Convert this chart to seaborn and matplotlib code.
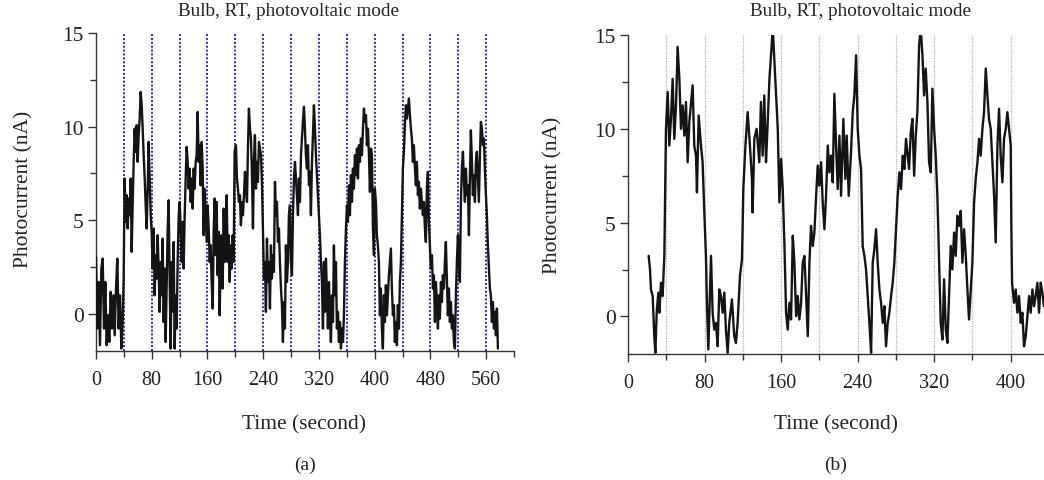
import matplotlib
matplotlib.use("Agg")
import matplotlib.pyplot as plt
import seaborn as sns
import pandas as pd
from matplotlib.ticker import MultipleLocator

# ---------------- data: panel (a) ----------------
time_a = [0.0, 1.9, 3.8, 5.7, 7.7, 9.6, 11.5, 13.4, 15.3, 17.2, 19.1, 21.1, 23.0, 24.9, 26.8, 28.7,
          30.6, 32.5, 34.4, 36.4, 38.3, 39.7,
          41.1, 42.6, 44.0, 45.5, 46.9, 48.3, 49.8, 51.2, 52.6, 54.1, 55.5, 56.9, 58.4, 59.8, 61.2, 62.7,
          64.1, 65.6, 67.0, 68.4, 69.9, 71.3, 72.7, 74.2, 75.6, 77.0, 78.5, 79.9, 81.3, 82.8, 84.2, 85.6,
          87.1, 88.5, 90.0, 91.4, 92.8, 94.3, 95.7, 97.1, 98.6, 100.0, 101.4, 102.9, 104.3, 105.7, 107.2,
          108.6, 110.0, 111.5, 112.9, 114.4, 115.8, 117.2, 118.7, 120.1,
          121.5, 123.0, 124.4, 125.8, 127.3, 128.7, 130.1, 131.6, 133.0, 134.4, 135.9, 137.3, 138.8, 140.2,
          141.6, 143.1, 144.5, 145.9, 147.4, 148.8, 150.2, 151.7, 153.1, 154.5, 156.0, 157.4, 158.9, 160.3,
          161.7, 163.2, 164.6, 166.0, 167.5, 168.9, 170.3, 171.8, 173.2, 174.6, 176.1, 177.5, 178.9, 180.4,
          181.8, 183.3, 184.7, 186.1, 187.6, 189.0, 190.4, 191.9, 193.3, 194.7, 196.2, 197.6, 199.0,
          200.9, 202.3, 203.7, 205.2, 206.6, 208.0, 209.5, 210.9, 212.4, 213.8, 215.2, 216.7, 218.1, 219.5,
          221.0, 222.4, 223.8, 225.3, 226.7, 228.1, 229.6, 231.0, 232.4, 233.9, 235.3, 236.8, 238.2, 239.6,
          241.1, 242.5, 243.9, 245.4, 246.8, 248.2, 249.7, 251.1, 252.5, 254.0, 255.4, 256.9, 258.3, 259.7,
          261.2, 262.6, 264.0, 265.5, 266.9, 268.3, 269.8, 271.2, 272.6, 274.1, 275.5, 276.9, 278.4, 279.8,
          281.3, 282.7, 284.1, 285.6, 287.0, 288.4, 289.9, 291.3, 292.7, 294.2, 295.6, 297.0, 298.5, 299.9,
          301.3, 302.8, 304.2, 305.7, 307.1, 308.5, 310.0, 311.4, 312.8, 314.3, 315.7, 317.1, 318.6, 320.0,
          321.4, 322.9, 324.3, 325.8, 327.2, 328.6, 330.1, 331.5, 332.9, 334.4, 335.8, 337.2, 338.7, 340.1,
          341.5, 343.0, 344.4, 345.8, 347.3, 348.7, 350.2, 351.6, 353.0, 354.5, 355.9, 357.3, 358.8, 360.2,
          361.6, 363.1, 364.5, 365.9, 367.4, 368.8, 370.2, 371.7, 373.1, 374.6, 376.0, 377.4, 378.9, 380.3,
          381.7, 383.2, 384.6, 386.0, 387.5, 388.9, 390.3, 391.8, 393.2, 394.7, 396.1, 397.5, 399.0,
          400.3, 401.8, 403.2, 404.6, 406.1, 407.5, 408.9, 410.4, 411.8, 413.3, 414.7, 416.1, 417.6, 419.0,
          420.4, 421.9, 423.3, 424.7, 426.2, 427.6, 429.0, 430.5, 431.9, 433.3, 434.8, 436.2, 437.7, 439.1,
          440.5, 442.0, 443.4, 444.8, 446.3, 447.7, 449.1, 450.6, 452.0, 453.4, 454.9, 456.3, 457.8, 459.2,
          460.6, 462.1, 463.5, 464.9, 466.4, 467.8, 469.2, 470.7, 472.1, 473.5, 475.0, 476.4, 477.8, 479.3,
          480.7, 482.2, 483.6, 485.0, 486.5, 487.9, 489.3, 490.8, 492.2, 493.6, 495.1, 496.5, 497.9, 499.4,
          500.8, 502.2, 503.7, 505.1, 506.6, 508.0, 509.4, 510.9, 512.3, 513.7, 515.2, 516.6, 518.0, 519.5,
          520.9, 522.3, 523.8, 525.2, 526.7, 528.1, 529.5, 531.0, 532.4, 533.8, 535.3, 536.7, 538.1, 539.6,
          541.0, 542.4, 543.9, 545.3, 546.7, 548.2, 549.6, 551.1, 552.5, 553.9, 555.4, 556.8, 558.2, 559.7,
          561.1, 562.5, 564.0, 565.4, 566.8, 568.3, 569.7, 571.2, 572.6, 574.0, 575.5, 576.9]
current_a = [3.03, -0.80, 1.69, -1.69, 2.41, 2.94, -0.80, 1.69, -1.69, -0.09, -1.52, 1.16, -0.80, 0.98, -1.16, 1.34,
             2.94, -0.80, 0.98, -1.87, -0.45, 1.87,
             7.22, 4.90, 6.33, 4.55, 6.15, 5.26, 7.22, 3.30, 5.79, 8.11, 9.89, 8.65, 10.07, 8.11, 9.54, 10.43,
             11.85, 11.14, 9.89, 8.47, 7.22, 5.79, 4.55, 6.68, 9.18, 7.22, 5.26, 4.37, 2.41, 4.55, 0.98, 3.12,
             1.87, 4.19, 2.23, 0.09, 2.76, 0.98, 4.01, -0.45, 2.41, -1.52, 1.34, 4.55, 6.06, 1.87, -1.87,
             2.76, 0.09, 3.83, -1.87, 0.98, -0.80, 2.76, 5.26, 5.97,
             4.55, 2.76, 4.90, 2.41, 5.26, 7.22, 8.91, 8.11, 6.68, 7.75, 5.97, 7.22, 5.61, 7.75,
             6.68, 8.11, 8.47, 10.78, 8.11, 9.00, 6.86, 9.18, 7.75, 4.19, 6.68, 5.26, 3.83, 5.79,
             4.55, 2.76, 3.65, 1.69, 0.27, 4.37, 6.15, 3.12, 5.97, 2.05, 4.37, -0.09, 2.76, 4.19,
             1.34, 5.61, 2.76, 3.65, 6.33, 2.76, 4.19, 1.69, 3.65, 2.41, 4.19, 2.76, 8.65,
             9.00, 7.22, 6.68, 5.97, 6.33, 4.72, 5.97, 5.26, 6.33, 7.58, 6.86, 5.97, 8.82, 10.96,
             9.89, 9.36, 7.58, 4.55, 8.11, 9.54, 6.68, 8.11, 7.04, 9.18, 8.82, 8.47, 7.04, 4.55,
             1.87, 2.76, 0.09, 4.01, 1.69, 2.76, 0.27, 3.65, 1.87, 3.12, 2.23, 7.04, 5.26, 5.97,
             3.83, 4.55, 2.76, 1.34, 0.45, -1.52, 0.62, -0.80, 3.65, 1.69, 2.76, 5.26, 5.79, 2.76,
             2.05, 5.26, 7.22, 8.11, 7.22, 6.33, 5.26, 7.22, 5.97, 8.47, 9.36, 10.25, 11.05, 9.89,
             8.47, 7.75, 9.00, 6.86, 7.58, 5.26, 8.11, 9.54, 11.14, 9.89, 8.47, 7.40, 6.33, 5.26,
             4.19, 2.76, 1.69, -0.80, 2.76, 0.09, 2.94, 0.98, -0.80, 1.69, -0.09, -1.52, 0.98, -0.45,
             3.65, 0.98, 2.76, -0.80, 0.09, -1.52, -0.45, -1.87, -0.80, -1.52, -0.09, 2.76, 4.55, 5.79,
             4.90, 6.86, 5.26, 7.40, 5.97, 7.75, 6.68, 8.47, 7.40, 8.82, 7.22, 9.00, 8.11, 9.36,
             8.47, 9.89, 10.96, 10.25, 10.61, 9.00, 9.89, 8.47, 6.51, 8.82, 8.47, 4.55, 3.12,
             6.68, 5.97, 4.19, 3.65, 2.76, -0.09, 1.34, -0.80, -1.87, 0.98, -0.45, 1.52, -0.09, 0.98,
             2.05, 2.76, 3.48, 1.34, -0.09, 0.45, -1.52, -0.45, -1.69, 0.45, -0.80, 1.69, 2.76, 5.26,
             7.75, 8.65, 10.07, 11.14, 10.43, 10.96, 11.50, 10.61, 9.89, 9.36, 8.11, 9.00, 7.75, 6.86,
             8.11, 6.33, 7.04, 5.61, 6.68, 5.97, 5.26, 5.97, 4.55, 3.83, 6.68, 7.58, 4.90, 3.65,
             2.41, 3.12, 1.34, 2.05, -0.45, 1.69, 0.62, -0.80, 0.98, -0.27, 1.69, 0.62, 2.05, 1.34,
             2.76, 3.83, 1.69, -0.09, 1.34, -0.45, 0.62, -0.80, -0.09, -1.52, -1.87, 0.98, 2.76, 4.19,
             2.76, 1.69, 5.97, 7.75, 8.65, 7.22, 5.97, 7.75, 6.33, 6.86, 4.19, 7.22, 9.80, 8.11,
             6.33, 7.40, 5.97, 8.11, 8.65, 7.22, 5.97, 8.47, 10.25, 9.89, 9.00, 9.36, 7.75, 6.33,
             5.26, 3.65, 2.41, 1.34, 0.98, -0.45, 0.62, -0.80, 0.09, -1.16, 0.27, -1.87]

# ---------------- data: panel (b) ----------------
time_b = [21.6, 23.0, 24.0, 25.8, 27.5, 28.6, 30.0, 31.7, 32.8, 34.5, 36.2, 38.0, 39.7, 41.5, 43.2, 44.9,
          46.7, 48.4, 50.2, 51.9, 53.7, 55.4, 57.1, 58.9, 60.6, 62.4, 64.1, 67.6, 69.3, 71.1, 72.1, 73.9,
          76.3, 78.0, 79.8, 81.5, 82.6, 84.0, 86.8, 88.5, 90.2, 92.0, 93.7, 95.5, 97.2, 99.0, 100.7, 102.4,
          104.2, 105.9, 108.7, 111.1, 112.9, 114.6, 117.1, 119.2, 120.6, 122.6, 125.1, 127.5, 129.6, 130.3,
          132.1, 134.5, 137.3, 139.0, 140.8, 142.5, 144.3,
          145.4, 147.9, 151.4, 153.1, 154.9, 156.6, 158.3, 160.1, 161.8, 163.6, 165.3, 167.0, 168.8, 170.5,
          172.3, 174.0, 175.8, 177.5, 179.2, 181.0, 182.7, 184.5, 186.2, 188.0, 189.7, 191.4, 193.2, 194.9,
          196.7, 198.4, 200.1, 201.9, 203.6, 205.4, 207.1, 208.9, 210.6, 212.3, 214.1, 215.8, 217.6, 219.3,
          221.1, 222.8, 225.2, 227.3, 228.7, 230.8, 233.2, 235.0, 236.7, 238.5, 240.2, 242.0, 243.7, 245.4,
          247.2, 248.9, 250.7, 252.4, 254.2, 255.9, 257.6, 259.4, 261.1, 262.9, 264.6, 266.4, 268.1, 269.8,
          271.6, 273.3, 275.1, 276.8, 278.5, 280.3, 282.0, 283.8, 285.5, 287.3, 289.0, 290.7,
          293.9, 295.7, 297.4, 299.2, 300.9, 302.6, 304.4, 306.1, 307.9, 309.6, 311.3, 313.1, 314.8, 316.6,
          318.3, 320.1, 321.8, 323.5, 325.3, 327.0, 328.8, 330.5, 332.3, 334.0, 335.7, 337.5, 339.2, 341.0,
          342.7, 344.4, 346.2, 347.9, 349.7, 351.4, 353.2, 354.9, 356.6, 358.4, 360.1, 361.9, 363.6, 365.4,
          367.1, 368.8, 370.6, 372.3, 374.1, 375.8, 377.5, 379.3, 381.0, 382.8, 384.5, 386.3, 388.0, 389.7,
          391.5, 393.2, 395.0, 396.7, 398.5, 400.2, 400.9, 401.6, 403.7, 405.4, 407.2, 408.9, 410.7, 412.4,
          414.1, 415.9, 417.6, 419.4, 421.1, 422.9, 424.6, 426.3, 428.1, 429.8, 431.6, 433.3, 435.0]
current_b = [3.23, 2.51, 1.44, 1.09, -1.05, -1.94, 0.20, 1.27, 0.20, 1.80, 1.09, 3.23, 10.00, 11.96, 9.11, 10.53,
             12.67, 9.47, 11.25, 14.37, 12.67, 10.00, 11.25, 9.64, 11.43, 8.22, 10.36, 12.32, 9.11, 8.57, 6.61, 10.71,
             9.11, 8.22, 5.54, 3.23, 0.55, -1.76, 3.23, 0.20, -0.70, -0.34, -1.59, 1.44, 1.09, 0.20, 1.27, -0.70,
             -1.94, -0.34, 0.91, -1.05, -1.41, -0.34, 2.16, 3.05, 6.79, 8.93, 10.89, 9.11, 7.33, 5.54,
             9.47, 10.00, 8.22, 11.43, 8.57, 11.78, 8.22,
             9.47, 12.67, 15.35, 13.57, 11.78, 10.00, 6.08, 8.40, 6.79, 3.76, 0.20, -0.70, 0.73, -0.16,
             4.30, 2.87, 0.02, 1.09, -0.16, 0.73, 2.87, 3.23, 1.09, -1.05, 2.87, 4.83, 3.76, 4.47,
             6.43, 8.04, 6.97, 8.22, 6.08, 4.65, 6.43, 9.11, 7.68, 8.57, 7.15, 11.87, 9.11, 6.79,
             9.64, 6.43, 10.53, 7.33, 9.64, 6.43, 8.75, 10.89, 11.78, 13.92, 10.00, 8.57, 7.86, 3.76,
             3.23, 2.51, 1.09, -0.34, -1.94, 2.87, 3.58, 4.65, 2.87, 1.44, 0.73, -0.34, 0.55, -1.59,
             -0.34, 0.20, 1.09, 1.80, 2.87, 4.65, 6.43, 7.68, 6.79, 8.57, 7.86, 9.47,
             7.86, 9.82, 10.53, 7.50, 9.64, 10.89, 14.46, 15.35, 13.92, 11.78, 13.21, 11.43, 8.22, 7.68,
             12.14, 10.00, 8.57, 6.43, 2.87, -0.34, -1.23, 1.98, -0.70, -1.41, 1.09, 3.76, 2.51, 4.47,
             3.23, 5.37, 4.83, 5.63, 2.87, 4.65, 3.23, 1.44, -0.16, 1.44, 2.87, 6.08, 7.33, 8.22,
             9.47, 8.57, 10.00, 10.89, 13.21, 11.78, 10.53, 10.00, 8.22, 6.43, 3.94, 9.11, 11.07, 8.57,
             7.15, 9.47, 10.00, 10.89, 10.00, 9.11, 4.65, 1.80, 0.73, 1.44, 0.20, 1.09, -0.34, 0.20,
             -1.59, -1.05, 0.02, 1.09, 0.20, 1.44, 0.55, 1.09, 1.80, 0.20, 1.80, 1.27, 0.55]

switch_a = [40, 80, 120, 160, 200, 240, 280, 320, 360, 400, 440, 480, 520, 560]
switch_b = [40, 80, 120, 160, 200, 240, 280, 320, 360, 400]
xticks_a = [0, 80, 160, 240, 320, 400, 480, 560]
xticks_b = [0, 80, 160, 240, 320, 400]
yticks = [0, 5, 10, 15]

title = "Bulb, RT, photovoltaic mode"
xlabel = "Time (second)"
ylabel = "Photocurrent (nA)"
panel_labels = ["(a)", "(b)"]

# ---------------- plotting ----------------
sns.set_style("ticks")
plt.rcParams['font.family'] = ['Liberation Serif', 'DejaVu Serif']

W, H = 1044, 481
fig = plt.figure(figsize=(W / 100, H / 100), dpi=100)

def px_axes(l, t, r, b):
    return fig.add_axes([l / W, 1 - b / H, (r - l) / W, (b - t) / H])

ax_a = px_axes(96, 34, 514, 352)
ax_b = px_axes(628, 36, 1044, 355)

df_a = pd.DataFrame({"t": time_a, "I": current_a})
df_b = pd.DataFrame({"t": time_b, "I": current_b})

for x in switch_a:
    ax_a.axvline(x, color="#2c2ca0", linestyle=(0, (1, 1)), linewidth=1.4, zorder=1)
for x in switch_b:
    ax_b.axvline(x, color="#a9a9e6", linestyle=(0, (1, 1)), linewidth=0.9, zorder=1)

sns.lineplot(data=df_a, x="t", y="I", ax=ax_a, color="#141414", linewidth=1.7,
             estimator=None, sort=False, zorder=3)
sns.lineplot(data=df_b, x="t", y="I", ax=ax_b, color="#141414", linewidth=1.7,
             estimator=None, sort=False, zorder=3)

TXT = "#222222"
for ax, xl, xt in [(ax_a, (0, 600), xticks_a), (ax_b, (0, 435), xticks_b)]:
    ax.set_xlim(*xl)
    ax.set_ylim(-2, 15)
    ax.set_xticks(xt)
    ax.set_yticks(yticks)
    ax.xaxis.set_minor_locator(MultipleLocator(40))
    ax.yaxis.set_minor_locator(MultipleLocator(2.5))
    ax.set_xlabel("")
    ax.set_ylabel("")
    for s in ["top", "right"]:
        ax.spines[s].set_visible(False)
    for s in ["left", "bottom"]:
        ax.spines[s].set_color("#333333")
        ax.spines[s].set_linewidth(1.0)
    ax.tick_params(axis="both", which="major", direction="out", length=6, width=1.0,
                   color="#333333", labelcolor=TXT)
    ax.tick_params(axis="both", which="minor", direction="out", length=4, width=1.0, color="#333333")
    ax.tick_params(axis="x", which="major", labelsize=14.5, pad=8)
    ax.tick_params(axis="y", which="major", labelsize=15.5, pad=3)

# axis labels and titles placed at the reference pixel positions
fig.text(24 / W, 1 - 189 / H, ylabel, rotation=90, ha="center", va="center", fontsize=15.5, color=TXT)
fig.text(553 / W, 1 - 195 / H, ylabel, rotation=90, ha="center", va="center", fontsize=15.5, color=TXT)
fig.text(288 / W, 1 - 12 / H, title, ha="center", va="center", fontsize=13.8, color=TXT)
fig.text(860 / W, 1 - 12 / H, title, ha="center", va="center", fontsize=13.8, color=TXT)
fig.text(304 / W, 1 - 425 / H, xlabel, ha="center", va="center", fontsize=15.4, color=TXT)
fig.text(836 / W, 1 - 425 / H, xlabel, ha="center", va="center", fontsize=15.4, color=TXT)
fig.text(305 / W, 1 - 465 / H, panel_labels[0], ha="center", va="center", fontsize=14, color=TXT)
fig.text(836 / W, 1 - 465 / H, panel_labels[1], ha="center", va="center", fontsize=14, color=TXT)

fig.savefig("out.png", dpi=100, facecolor="white")
